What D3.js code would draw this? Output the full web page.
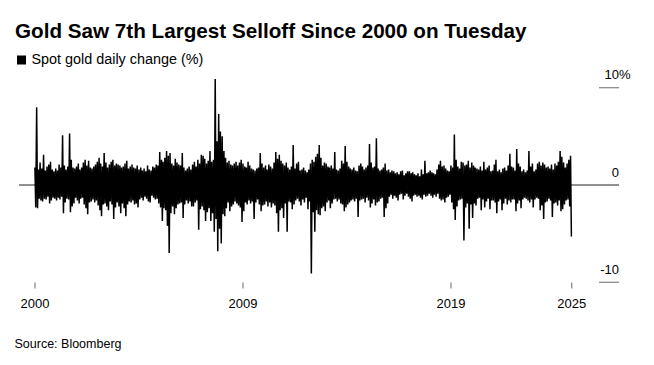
<!DOCTYPE html>
<html><head><meta charset="utf-8">
<script src="https://cdn.jsdelivr.net/npm/d3@7"></script>
<style>
body{margin:0;background:#fff}
svg{display:block}
text{font-family:"Liberation Sans", Arial, Helvetica, sans-serif; fill:#000}
</style>
</head><body>
<svg id="chart" width="654" height="365"></svg>
<script>
// Spot gold daily change (%) summarised per month: largest daily gain / largest daily loss
const startYear = 2000;
const monthlyHigh = [
  1.8, 8.0, 1.6, 2.3, 1.7, 3.1, 1.5, 1.9, 2.1, 2.4, 1.6, 1.4,   // 2000
  1.7, 1.5, 2.1, 1.8, 5.1, 2.0, 1.6, 1.9, 5.3, 2.6, 1.8, 1.7,   // 2001
  1.9, 2.2, 1.6, 1.8, 2.3, 2.6, 2.0, 2.5, 1.8, 1.7, 1.9, 2.1,   // 2002
  2.4, 2.8, 2.2, 1.9, 3.3, 2.3, 1.8, 2.1, 2.4, 2.6, 2.0, 2.2,   // 2003
  2.1, 2.0, 1.8, 1.9, 2.2, 2.5, 1.7, 1.9, 2.1, 1.8, 1.7, 2.0,   // 2004
  1.6, 1.8, 1.5, 1.7, 1.4, 2.0, 1.6, 1.5, 1.9, 1.8, 2.1, 2.0,   // 2005
  3.4, 2.6, 2.4, 2.8, 3.5, 3.0, 3.3, 2.2, 2.0, 2.7, 2.3, 2.1,   // 2006
  2.0, 3.3, 1.8, 1.5, 1.7, 1.9, 1.6, 2.1, 2.4, 1.9, 2.6, 2.2,   // 2007
  3.1, 3.0, 2.7, 2.2, 2.5, 3.5, 2.4, 2.6, 10.9, 4.5, 7.3, 5.5,  // 2008
  5.0, 3.5, 2.8, 2.3, 2.5, 2.1, 2.0, 2.2, 2.4, 2.0, 2.3, 2.6,   // 2009
  2.2, 1.9, 1.8, 2.4, 2.0, 1.7, 1.6, 1.5, 1.7, 1.8, 3.3, 2.2,   // 2010
  1.8, 2.0, 1.6, 2.1, 1.9, 1.7, 2.3, 3.4, 2.7, 3.1, 2.5, 2.2,   // 2011
  2.0, 2.3, 1.8, 1.6, 1.9, 4.1, 1.7, 2.2, 2.4, 1.5, 1.6, 1.8,   // 2012
  1.5, 1.3, 1.6, 2.2, 2.6, 2.4, 2.9, 3.2, 4.1, 2.8, 2.0, 2.3,   // 2013
  2.2, 1.9, 1.8, 2.0, 1.7, 3.4, 1.6, 1.5, 1.7, 2.5, 2.2, 4.0,   // 2014
  2.4, 1.9, 1.7, 1.6, 1.8, 1.5, 1.4, 2.0, 2.2, 1.9, 1.6, 1.8,   // 2015
  2.0, 4.2, 2.3, 1.8, 1.9, 4.8, 1.7, 1.5, 1.6, 1.8, 2.2, 1.5,   // 2016
  1.6, 1.3, 1.5, 1.4, 1.2, 1.3, 1.1, 1.4, 1.5, 1.0, 1.2, 1.4,   // 2017
  1.4, 1.2, 1.3, 1.1, 1.0, 1.2, 0.9, 1.6, 1.1, 2.5, 1.2, 1.3,   // 2018
  1.5, 1.3, 1.2, 1.1, 1.6, 2.1, 2.5, 1.9, 2.0, 1.7, 1.5, 1.4,   // 2019
  2.0, 1.8, 5.2, 2.6, 1.9, 1.7, 2.4, 2.3, 2.0, 2.1, 2.5, 1.8,   // 2020
  2.3, 2.0, 1.8, 1.7, 1.6, 1.9, 1.5, 2.4, 1.6, 1.8, 2.0, 1.4,   // 2021
  1.5, 2.1, 2.6, 1.4, 1.6, 1.3, 1.7, 1.8, 1.5, 2.0, 3.2, 1.9,   // 2022
  1.8, 1.5, 3.7, 2.2, 1.9, 1.4, 1.6, 1.3, 1.5, 3.5, 1.9, 2.2,   // 2023
  1.4, 1.6, 2.2, 2.4, 2.0, 2.3, 2.1, 1.8, 1.9, 1.7, 2.1, 1.6,   // 2024
  2.2, 2.0, 2.4, 3.5, 2.9, 2.3, 1.8, 2.2, 2.6, 3.0              // 2025 (to Oct 21)
];
const monthlyLow = [
  -2.3, -2.4, -1.4, -1.6, -1.7, -1.4, -1.5, -1.2, -1.9, -1.6, -1.3, -1.4,  // 2000
  -1.6, -1.3, -1.5, -1.2, -2.9, -1.8, -1.4, -1.5, -2.8, -2.2, -1.9, -1.3,  // 2001
  -1.6, -1.9, -1.4, -1.3, -2.0, -2.4, -3.0, -1.8, -1.7, -1.5, -1.8, -1.6,  // 2002
  -2.1, -2.6, -3.2, -2.0, -1.9, -2.2, -2.6, -1.7, -2.0, -3.5, -2.3, -1.8,  // 2003
  -2.2, -2.9, -1.9, -2.4, -3.2, -2.0, -1.7, -1.8, -1.6, -2.0, -1.9, -2.3,  // 2004
  -1.5, -1.3, -1.6, -1.2, -1.4, -1.7, -1.8, -1.1, -1.3, -1.5, -1.4, -1.9,  // 2005
  -2.3, -3.7, -2.4, -2.6, -4.2, -7.0, -2.9, -2.2, -3.0, -2.4, -2.0, -1.9,  // 2006
  -1.8, -3.4, -2.0, -1.6, -1.9, -1.7, -2.2, -2.2, -1.8, -1.6, -4.6, -2.5,  // 2007
  -2.2, -2.6, -3.7, -2.8, -2.4, -3.7, -2.9, -4.8, -3.5, -6.8, -4.5, -6.0,  // 2008
  -3.0, -3.2, -2.4, -1.8, -2.7, -2.2, -2.0, -1.7, -1.9, -2.1, -2.3, -3.8,  // 2009
  -2.7, -1.8, -2.0, -1.6, -1.9, -1.7, -3.5, -1.8, -1.5, -2.0, -2.7, -2.1,  // 2010
  -2.0, -1.7, -2.2, -1.8, -2.3, -1.9, -2.1, -2.9, -4.8, -2.6, -2.4, -3.4,  // 2011
  -1.9, -4.8, -1.7, -1.8, -2.5, -2.0, -1.6, -1.4, -1.7, -2.1, -1.5, -1.8,  // 2012
  -1.3, -2.5, -1.7, -9.1, -2.8, -4.8, -2.6, -3.0, -3.1, -2.4, -2.2, -2.7,  // 2013
  -1.8, -1.6, -2.4, -1.9, -1.5, -1.4, -1.7, -1.5, -1.9, -2.0, -2.7, -2.3,  // 2014
  -2.0, -1.8, -1.6, -1.5, -1.7, -1.4, -3.3, -1.6, -1.5, -1.4, -1.8, -1.3,  // 2015
  -1.6, -2.3, -1.9, -1.5, -2.1, -1.8, -1.7, -1.4, -1.3, -3.3, -2.4, -1.9,  // 2016
  -1.2, -1.0, -1.4, -1.1, -1.3, -1.6, -1.0, -0.9, -1.5, -1.1, -0.9, -1.2,  // 2017
  -1.4, -1.7, -1.1, -1.0, -1.2, -1.1, -1.3, -1.5, -1.0, -1.2, -1.1, -0.9,  // 2018
  -1.1, -1.3, -1.0, -1.2, -0.9, -1.4, -1.6, -1.5, -1.8, -1.3, -1.2, -1.0,  // 2019
  -1.8, -2.5, -3.6, -2.2, -1.6, -1.5, -1.4, -5.7, -2.3, -1.9, -4.5, -2.0,  // 2020
  -3.4, -1.9, -2.1, -1.4, -1.3, -2.6, -1.5, -2.3, -1.7, -1.4, -2.5, -1.6,  // 2021
  -1.6, -1.8, -2.9, -1.7, -1.5, -2.6, -1.9, -1.4, -2.0, -1.6, -1.8, -1.5,  // 2022
  -1.5, -2.7, -1.9, -1.6, -2.4, -1.5, -1.3, -1.4, -1.6, -1.8, -1.5, -2.3,  // 2023
  -1.5, -1.3, -1.4, -2.6, -2.1, -3.5, -1.8, -1.7, -1.4, -1.6, -3.3, -1.9,  // 2024
  -1.8, -2.1, -1.6, -2.7, -2.5, -2.0, -1.6, -1.5, -2.2, -5.3               // 2025
];
const yTickValues = [10, 0, -10];
const yTickLabels = ["10", "0", "-10"];
const xTickDates = ["2000-01-01", "2009-12-31", "2019-12-31", "2025-10-21"];
const xTickLabels = ["2000", "2009", "2019", "2025"];
const title = "Gold Saw 7th Largest Selloff Since 2000 on Tuesday";
const legendLabel = "Spot gold daily change (%)";
const source = "Source: Bloomberg";

// Build the point sequence: each month's largest gain, then its largest loss
const points = [];
monthlyHigh.forEach((h, i) => {
  const yr = startYear + Math.floor(i / 12), mo = i % 12;
  points.push({date: new Date(Date.UTC(yr, mo, 8)), v: h});
  points.push({date: new Date(Date.UTC(yr, mo, 23)), v: monthlyLow[i]});
});

const svg = d3.select("#chart");
const x = d3.scaleUtc()
  .domain([new Date(Date.UTC(2000, 0, 1)), new Date(Date.UTC(2025, 9, 23))])
  .range([34.5, 571.4]);
const y = d3.scaleLinear().domain([-10, 10]).range([282.3, 87.7]);

// Title
const t = svg.append("text").attr("x", 15).attr("y", 37.5)
  .attr("font-weight", "bold").attr("font-size", 18.5).text(title);
const tw = t.node().getComputedTextLength();
t.attr("font-size", 18.5 * 512 / tw);

// Legend
svg.append("rect").attr("x", 17).attr("y", 55.5).attr("width", 9).attr("height", 9).attr("fill", "#000");
const lg = svg.append("text").attr("x", 31.5).attr("y", 63.5).attr("font-size", 13).text(legendLabel);
const lw = lg.node().getComputedTextLength();
lg.attr("font-size", 13 * 172 / lw);

// Zero line across the plot
svg.append("line").attr("x1", 19).attr("x2", 619)
  .attr("y1", y(0)).attr("y2", y(0)).attr("stroke", "#222").attr("stroke-width", 1);

// Data
svg.append("path").datum(points)
  .attr("fill", "none").attr("stroke", "#000").attr("stroke-width", 1.5)
  .attr("stroke-linejoin", "bevel")
  .attr("d", d3.line().x(d => x(d.date)).y(d => y(d.v)));

// Right y-axis ticks and labels
yTickValues.forEach((v, i) => {
  if (v !== 0) {
    svg.append("line").attr("x1", 599).attr("x2", 619)
      .attr("y1", y(v)).attr("y2", y(v)).attr("stroke", "#8c8c8c").attr("stroke-width", 1.3);
  }
  svg.append("text").attr("x", 619).attr("y", y(v) - 8.5)
    .attr("text-anchor", "end").attr("font-size", 13).text(yTickLabels[i]);
  if (v === 10) {
    svg.append("text").attr("x", 619).attr("y", y(v) - 8.5)
      .attr("font-size", 13).text("%");
  }
});

// Bottom x-axis
const xAxis = d3.axisBottom(x)
  .tickValues(xTickDates.map(s => new Date(s + "T00:00:00Z")))
  .tickFormat((d, i) => xTickLabels[i])
  .tickSize(6).tickPadding(10);
const gx = svg.append("g").attr("transform", "translate(0,282.5)").call(xAxis);
gx.select(".domain").remove();
gx.selectAll(".tick line").attr("stroke", "#666");
gx.selectAll(".tick text").attr("font-size", 13).attr("fill", "#000")
  .attr("font-family", '"Liberation Sans", Arial, sans-serif');

// Source
svg.append("text").attr("x", 14.5).attr("y", 347.5).attr("font-size", 12.5).text(source);
</script>
</body></html>
